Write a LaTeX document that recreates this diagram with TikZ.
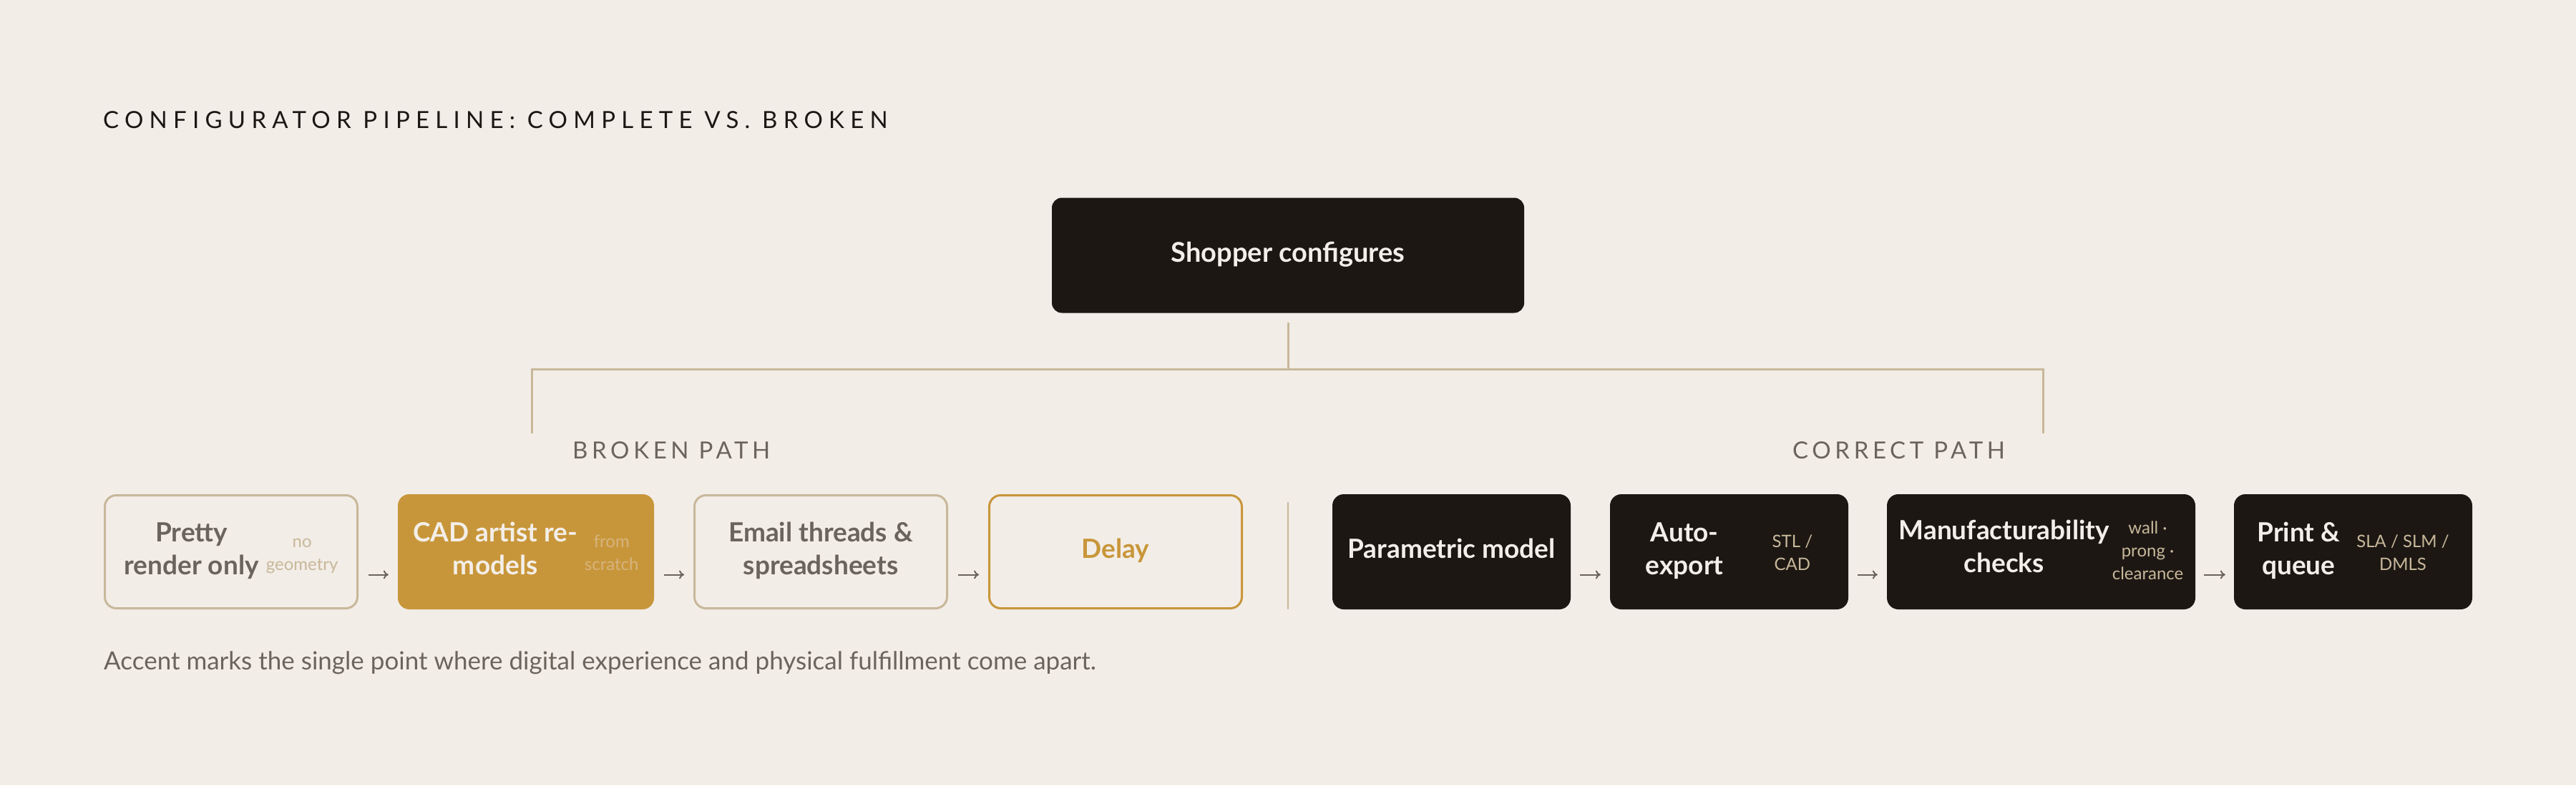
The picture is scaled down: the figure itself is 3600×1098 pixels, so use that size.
\documentclass[tikz,border=0pt]{standalone}
\usepackage{fontspec}
\setmainfont{Lato}
\newfontfamily\spacedfont[LetterSpace=25]{Lato}
\newfontfamily\labelfont[LetterSpace=17]{Lato}
\usetikzlibrary{arrows.meta}
\definecolor{paper}{HTML}{F2EDE7}
\definecolor{ink}{HTML}{1C1713}
\definecolor{sand}{HTML}{C8B89A}
\definecolor{ochre}{HTML}{C8963A}
\definecolor{slate}{HTML}{6B645C}
\definecolor{cream}{HTML}{F3EEE8}
\definecolor{dimochre}{HTML}{D6B47E}
\colorlet{notecol}{sand}
\newcommand{\mainlines}[1]{\begin{tabular}[c]{@{}c@{}}#1\end{tabular}}
\newcommand{\notelines}[1]{\raisebox{-4pt}{\mdseries\fontsize{24}{32}\selectfont\color{notecol}\begin{tabular}[c]{@{}c@{}}#1\end{tabular}}}
\newcommand{\stagetext}[3][10pt]{\mainlines{#2}\hspace{#1}\notelines{#3}}

\begin{document}
\begin{tikzpicture}[x=1pt, y=-1pt,
	stage/.style={rounded corners=16pt, inner sep=0pt, minimum height=158pt, font=\bfseries\fontsize{37}{46}\selectfont},
	broken/.style={stage, draw=sand, line width=3pt, fill=paper, text=slate, minimum width=353pt},
	accent/.style={stage, fill=ochre, text=cream, minimum width=358pt, minimum height=161pt, execute at begin node={\colorlet{notecol}{dimochre}}},
	delay/.style={stage, draw=ochre, line width=3pt, fill=paper, text=ochre, minimum width=353pt},
	good/.style={stage, fill=ink, text=cream, minimum height=161pt},
	flow/.style={-{To[length=7pt,width=12pt]}, draw=slate, line width=2pt},
	bus/.style={draw=sand, line width=3pt},
	pathlabel/.style={anchor=base west, inner sep=0pt, text=slate, font=\labelfont\fontsize{33}{40}\selectfont}]
	\fill[paper] (0,0) rectangle (3600,1098);
	\useasboundingbox (0,0) rectangle (3600,1098);
	\node[anchor=base west, inner sep=0pt, text=ink, font=\spacedfont\fontsize{33}{40}\selectfont] (title) at (144,179) {CONFIGURATOR PIPELINE: COMPLETE VS. BROKEN};
	\node[good, rounded corners=14pt, minimum width=660pt, font=\bfseries\fontsize{38}{46}\selectfont] (shopper) at (1800,357) {\mainlines{Shopper configures}};
	\coordinate (fork) at (1800,516);
	\coordinate (brokenfork) at (743,516);
	\coordinate (correctfork) at (2855,516);
	\coordinate (brokenend) at (743,606);
	\coordinate (correctend) at (2855,606);
	\draw[bus] ([yshift=-13pt]shopper.south) -- (fork);
	\draw[bus] (brokenend) -- (brokenfork) -- (correctfork) -- (correctend);
	\node[pathlabel] (brokenlabel) at (800,641) {BROKEN PATH};
	\node[pathlabel] (correctlabel) at (2505,641) {CORRECT PATH};
	\node[broken] (render) at (323,771.5) {\stagetext{Pretty\\render only}{no\\geometry}};
	\node[accent] (remodel) at (735,771.5) {\stagetext{CAD artist re-\\models}{from\\scratch}};
	\node[broken] (email) at (1147,771.5) {\mainlines{Email threads \&\\spreadsheets}};
	\node[delay] (delay) at (1559,771.5) {\mainlines{Delay}};
	\node[good, minimum width=333pt] (param) at (2028.5,771.5) {\mainlines{Parametric model}};
	\node[good, minimum width=333pt] (export) at (2416.5,771.5) {\stagetext[68pt]{Auto-\\export}{STL /\\CAD}};
	\node[good, minimum width=431pt] (checks) at (2852.5,771.5) {\stagetext[4pt]{Manufacturability\\checks}{wall ·\\prong ·\\clearance}};
	\node[good, minimum width=333pt] (print) at (3288.5,771.5) {\stagetext[23pt]{Print \&\\queue}{SLA / SLM /\\DMLS}};
	\coordinate (splittop) at (1800,702);
	\coordinate (splitbottom) at (1800,852);
	\draw[draw=sand, line width=2pt] (splittop) -- (splitbottom);
	\draw[flow] ([xshift=14pt,yshift=-32pt]render.east) -- ([xshift=-13pt,yshift=-32pt]remodel.west);
	\draw[flow] ([xshift=14pt,yshift=-32pt]remodel.east) -- ([xshift=-13pt,yshift=-32pt]email.west);
	\draw[flow] ([xshift=14pt,yshift=-32pt]email.east) -- ([xshift=-13pt,yshift=-32pt]delay.west);
	\draw[flow] ([xshift=13pt,yshift=-32pt]param.east) -- ([xshift=-13pt,yshift=-32pt]export.west);
	\draw[flow] ([xshift=13pt,yshift=-32pt]export.east) -- ([xshift=-13pt,yshift=-32pt]checks.west);
	\draw[flow] ([xshift=12pt,yshift=-32pt]checks.east) -- ([xshift=-12pt,yshift=-32pt]print.west);
	\node[anchor=base west, inner sep=0pt, text=slate, font=\fontsize{35}{42}\selectfont] (caption) at (145,936) {Accent marks the single point where digital experience and physical fulfillment come apart.};
\end{tikzpicture}
\end{document}
